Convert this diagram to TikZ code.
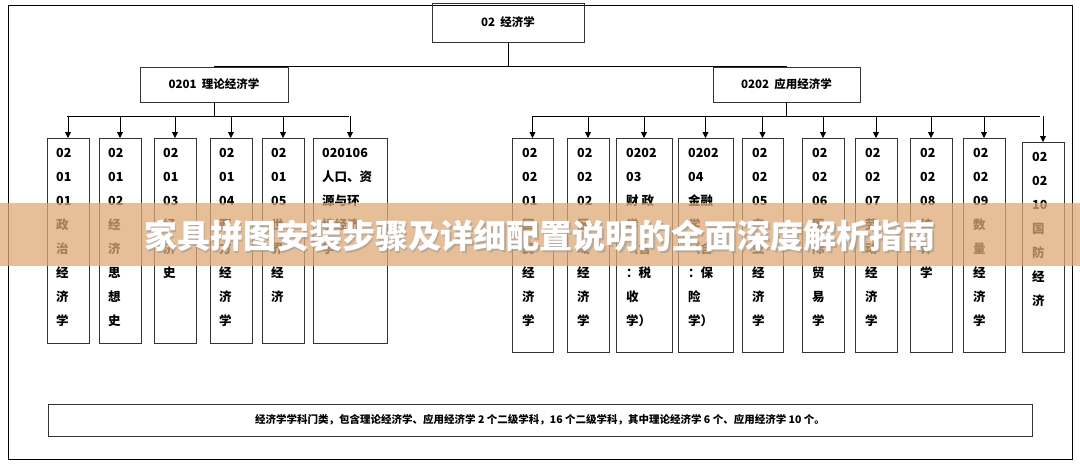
\documentclass[tikz,border=0pt]{standalone}
\usepackage{fontspec}
\setmainfont{Noto Sans CJK SC}
\usetikzlibrary{arrows.meta}
\begin{document}
\begin{tikzpicture}[x=1pt,y=-1pt,
 box/.style={draw=black!80,line width=0.8pt},
 lbl/.style={font=\fontsize{12.5}{24}\selectfont\bfseries,align=left,anchor=north west,inner sep=0pt},
 arr/.style={line width=0.8pt,-{Triangle[length=6pt,width=6pt]}},
 ln/.style={line width=0.8pt}]
\useasboundingbox (0,0) rectangle (1080,471);
\fill[white] (0,0) rectangle (1080,471);
\draw[ln] (8,5) rectangle (1072,459);
\node[box,minimum width=152pt,minimum height=39pt,font=\fontsize{11.5}{12}\selectfont\bfseries] (top) at (508,22.5) {02\ \ 经济学};
\node[box,minimum width=148pt,minimum height=35pt,font=\fontsize{11.5}{12}\selectfont\bfseries] (l) at (214,84.5) {0201\ \ 理论经济学};
\node[box,minimum width=147pt,minimum height=35pt,font=\fontsize{11.5}{12}\selectfont\bfseries] (r) at (786.5,84.5) {0202\ \ 应用经济学};
\draw[ln] (top.south) |- (l.north) ;
\draw[ln] (top.south) |- (r.north);
\draw[ln] (l.south) -- (214,116);
\draw[ln] (r.south) -- (786.5,116);
\draw[ln] (67,116) -- (349,116);
\draw[ln] (533,116) -- (1040,116);
\foreach \n/\a/\b/\t in {L1/47/89/{02\\01\\01\\政\\治\\经\\济\\学},
 L2/99/141/{02\\01\\02\\经\\济\\思\\想\\史},
 L3/154/196/{02\\01\\03\\经\\济\\史},
 L4/210/252/{02\\01\\04\\西\\方\\经\\济\\学},
 L5/262/304/{02\\01\\05\\世\\界\\经\\济},
 L6/313/387/{020106\\人口、资\\源与环\\境经济\\学}}{
 \draw[box] (\a,138) rectangle (\b,343);
 \node[lbl] (\n) at (\a+9,148) {\t};
 \draw[arr] ({(\a+\b)/2},116) -- ({(\a+\b)/2},138);
}
\foreach \n/\a/\b/\tp/\t in {R1/512/553/138/{02\\02\\01\\国\\民\\经\\济\\学},
 R2/567/609/138/{02\\02\\02\\区\\域\\经\\济\\学},
 R3/616/672/138/{0202\\03\\财\ 政\\学\\（含\\：税\\收\\学）},
 R4/678/733/138/{0202\\04\\金融\\学\\（含\\：保\\险\\学）},
 R5/742/783/138/{02\\02\\05\\产\\业\\经\\济\\学},
 R6/802/844/138/{02\\02\\06\\国\\际\\贸\\易\\学},
 R7/855/897/138/{02\\02\\07\\劳\\动\\经\\济\\学},
 R8/910/952/138/{02\\02\\08\\统\\计\\学},
 R9/963/1005/138/{02\\02\\09\\数\\量\\经\\济\\学},
 R10/1022/1064/142/{02\\02\\10\\国\\防\\经\\济}}{
 \draw[box] (\a,\tp) rectangle (\b,352);
 \node[lbl] (\n) at (\a+10,\tp+10) {\t};
 \draw[arr] ({(\a+\b)/2},116) -- ({(\a+\b)/2},\tp);
}
\node[box,minimum width=984pt,minimum height=32pt,font=\fontsize{10.5}{11}\selectfont\bfseries] (note) at (540,420) {经济学学科门类，包含理论经济学、应用经济学 2 个二级学科，16 个二级学科，其中理论经济学 6 个、应用经济学 10 个。};
\fill[fill={rgb,255:red,222;green,170;blue,120},opacity=0.75] (0,203) rectangle (1080,266);
\node[font=\fontsize{33}{36}\selectfont\bfseries,text=black!40,opacity=0.6] at (541.5,237.5) {家具拼图安装步骤及详细配置说明的全面深度解析指南};
\node[font=\fontsize{33}{36}\selectfont\bfseries,text=white] (ban) at (540,236) {家具拼图安装步骤及详细配置说明的全面深度解析指南};
\end{tikzpicture}
\end{document}
